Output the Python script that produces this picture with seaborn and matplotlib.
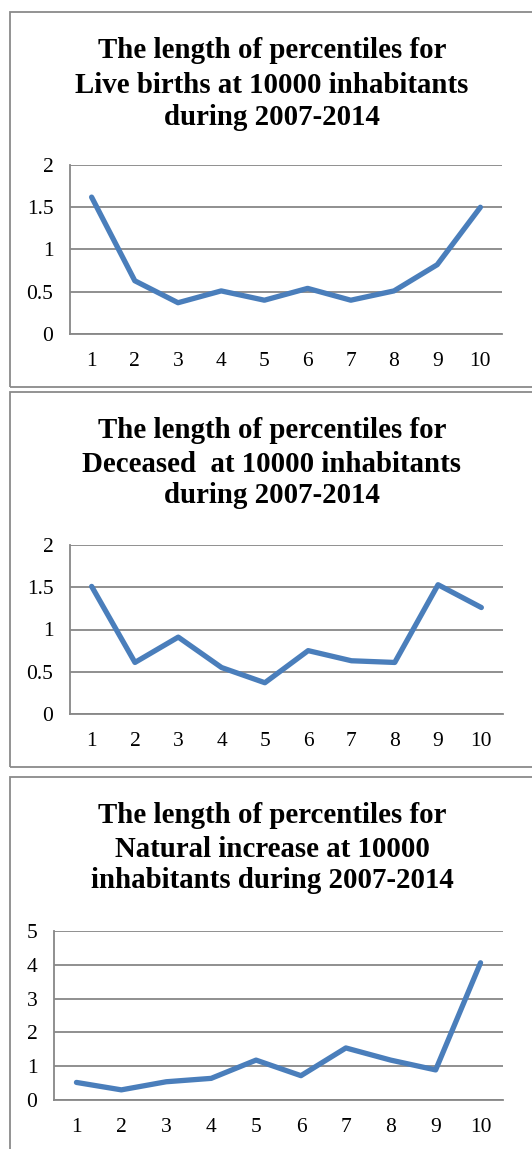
import matplotlib
matplotlib.use("Agg")
import matplotlib.pyplot as plt
import seaborn as sns
import pandas as pd
from matplotlib.patches import Rectangle

# Percentile index on the x axis
percentiles = list(range(1, 11))

# Length of each percentile, per 10000 inhabitants, 2007-2014
live_births = [1.62, 0.63, 0.37, 0.51, 0.40, 0.54, 0.40, 0.51, 0.82, 1.50]
deceased = [1.51, 0.61, 0.91, 0.55, 0.37, 0.75, 0.63, 0.61, 1.53, 1.26]
natural_increase = [0.52, 0.30, 0.54, 0.64, 1.18, 0.72, 1.54, 1.18, 0.89, 4.06]

title_live = ["The length of percentiles for",
              "Live births at 10000 inhabitants",
              "during 2007-2014"]
title_deceased = ["The length of percentiles for",
                  "Deceased  at 10000 inhabitants",
                  "during 2007-2014"]
title_natural = ["The length of percentiles for",
                 "Natural increase at 10000",
                 "inhabitants during 2007-2014"]

yticks_small = [0, 0.5, 1, 1.5, 2]
ytick_labels_small = ["0", "0.5", "1", "1.5", "2"]
yticks_large = [0, 1, 2, 3, 4, 5]
ytick_labels_large = ["0", "1", "2", "3", "4", "5"]

sns.set_theme(style="white")
plt.rcParams["font.family"] = ["Liberation Serif", "DejaVu Serif"]

W, H = 532, 1149
fig = plt.figure(figsize=(W / 100, H / 100), dpi=100)

LINE_COLOR = "#4A7EBB"
GRID_COLOR = "#878787"


def fx(px):
    return px / W


def fy(py):
    return 1 - py / H


def panel_frame(top, bottom):
    fig.patches.append(Rectangle((fx(10), fy(bottom)), fx(560 - 10), (bottom - top) / H,
                                 transform=fig.transFigure, fill=False,
                                 edgecolor="#8a8a8a", linewidth=1.3))


def panel_title(lines, baselines):
    for text, base in zip(lines, baselines):
        fig.text(fx(272), fy(base), text, ha="center", va="baseline",
                 fontsize=20.8, fontweight="bold", color="black")


def panel_plot(values, left, right, top, bottom, ymax, yticks, ylabels):
    ax = fig.add_axes([fx(left), fy(bottom), (right - left) / W, (bottom - top) / H])
    df = pd.DataFrame({"percentile": percentiles, "length": values})
    sns.lineplot(data=df, x="percentile", y="length", ax=ax, color=LINE_COLOR,
                 linewidth=3.8, solid_capstyle="round", solid_joinstyle="round")
    ax.set_xlim(0.5, 10.5)
    ax.set_ylim(0, ymax)
    ax.set_xlabel("")
    ax.set_ylabel("")
    ax.set_xticks(percentiles)
    ax.set_xticklabels([str(p) for p in percentiles])
    ax.set_xticks([p + 0.5 for p in range(0, 11)], minor=True)
    ax.set_yticks(yticks)
    ax.set_yticklabels(ylabels)
    ax.tick_params(axis="x", which="major", length=0, pad=13, labelsize=15.5, colors="black")
    ax.tick_params(axis="x", which="minor", length=5, width=1.1, color=GRID_COLOR, direction="out")
    ax.tick_params(axis="y", which="major", length=5, width=1.1, color=GRID_COLOR,
                   direction="out", pad=7, labelsize=15.5, labelcolor="black")
    ax.yaxis.grid(True, color=GRID_COLOR, linewidth=1.3)
    ax.xaxis.grid(False)
    ax.set_axisbelow(True)
    for side in ("top", "right"):
        ax.spines[side].set_visible(False)
    for side in ("left", "bottom"):
        ax.spines[side].set_color(GRID_COLOR)
        ax.spines[side].set_linewidth(1.3)
    ax.set_facecolor("white")
    return ax


# Live births
panel_frame(12, 387)
panel_title(title_live, [58, 93, 125])
panel_plot(live_births, 70, 502, 165, 334, 2, yticks_small, ytick_labels_small)

# Deceased
panel_frame(392, 767)
panel_title(title_deceased, [438, 472, 503])
panel_plot(deceased, 70, 503, 545, 714, 2, yticks_small, ytick_labels_small)

# Natural increase
panel_frame(777, 1200)
panel_title(title_natural, [823, 857, 888])
panel_plot(natural_increase, 54, 503, 931, 1100, 5, yticks_large, ytick_labels_large)

fig.savefig("out.png", dpi=100)
